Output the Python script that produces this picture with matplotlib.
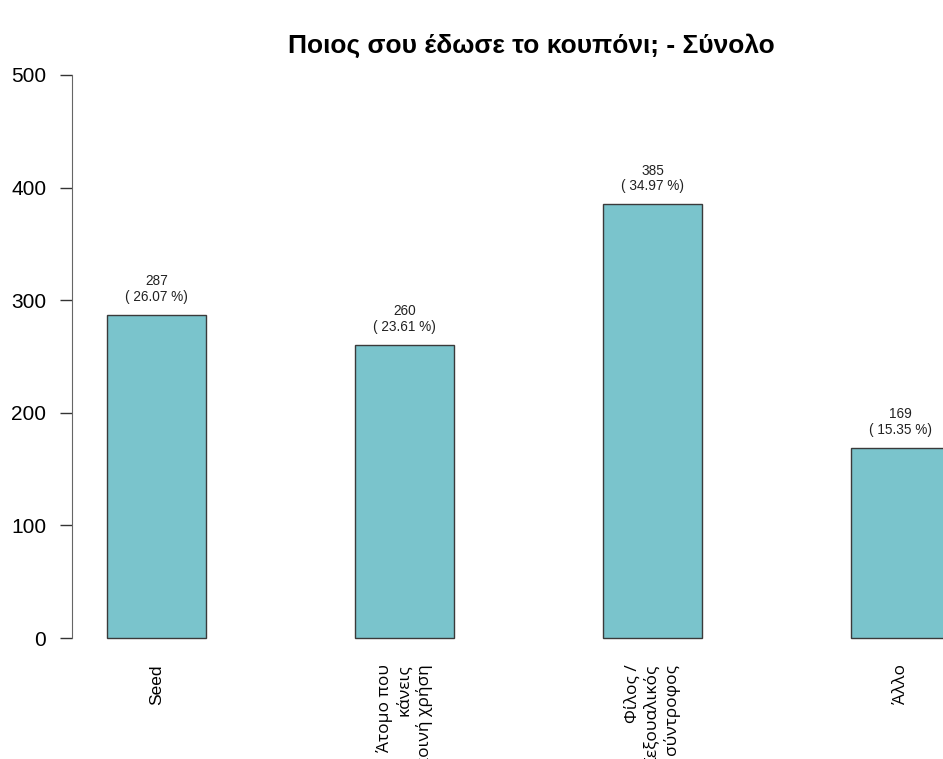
import matplotlib
matplotlib.use("agg")
import matplotlib.pyplot as plt

# answers and counts
categories = ["Seed", "Άτομο που\nκάνεις\nκοινή χρήση", "Φίλος /\nΣεξουαλικός\nσύντροφος", "Άλλο"]
counts = [287, 260, 385, 169]
percents = [26.07, 23.61, 34.97, 15.35]
yticks = [0, 100, 200, 300, 400, 500]

W, H = 943, 759
fig = plt.figure(figsize=(W / 100, H / 100), dpi=100)

# plot region in pixels (left, top, right, bottom)
left_px, top_px, right_px, bottom_px = 72, 75, 943, 638
ax = fig.add_axes([left_px / W, 1 - bottom_px / H,
                   (right_px - left_px) / W, (bottom_px - top_px) / H])

px_per_unit = 248.0
x0 = -(156.5 - left_px) / px_per_unit
ax.set_xlim(x0, x0 + (right_px - left_px) / px_per_unit)
ax.set_ylim(0, 500)

xs = list(range(len(categories)))
ax.bar(xs, counts, width=0.4, color="#7AC4CC", edgecolor="#3a3a3a",
       linewidth=1.0, clip_on=False)

for x, c, p in zip(xs, counts, percents):
    ax.annotate(f"{c}\n( {p:.2f} %)", xy=(x, c), xytext=(0, 8),
                textcoords="offset points", ha="center", va="bottom",
                fontsize=9.8, family="Liberation Sans", color="#222222",
                linespacing=1.15, annotation_clip=False)

# axes styling, R-like
for side in ("top", "right", "bottom"):
    ax.spines[side].set_visible(False)
ax.spines["left"].set_bounds(0, 500)
ax.spines["left"].set_color("#666666")
ax.set_yticks(yticks)
ax.set_yticklabels([str(t) for t in yticks], family="Liberation Sans", fontsize=15)
ax.tick_params(axis="y", length=8.6, width=1, color="#333333", pad=10)

ax.set_xticks(xs)
ax.set_xticklabels(categories, rotation=90, ha="center", va="top",
                   multialignment="right", fontsize=12.5, linespacing=1.25)
for i, lab in enumerate(ax.get_xticklabels()):
    lab.set_family("Liberation Sans" if i == 0 else "Open Sans")
ax.tick_params(axis="x", length=0, pad=19)

fig.text(531 / W, 1 - 46 / H,
         "Ποιος σου έδωσε το κουπόνι; - Σύνολο",
         ha="center", va="center", fontsize=19, fontweight="bold",
         family="Liberation Sans")

fig.savefig("out.png", dpi=100)
